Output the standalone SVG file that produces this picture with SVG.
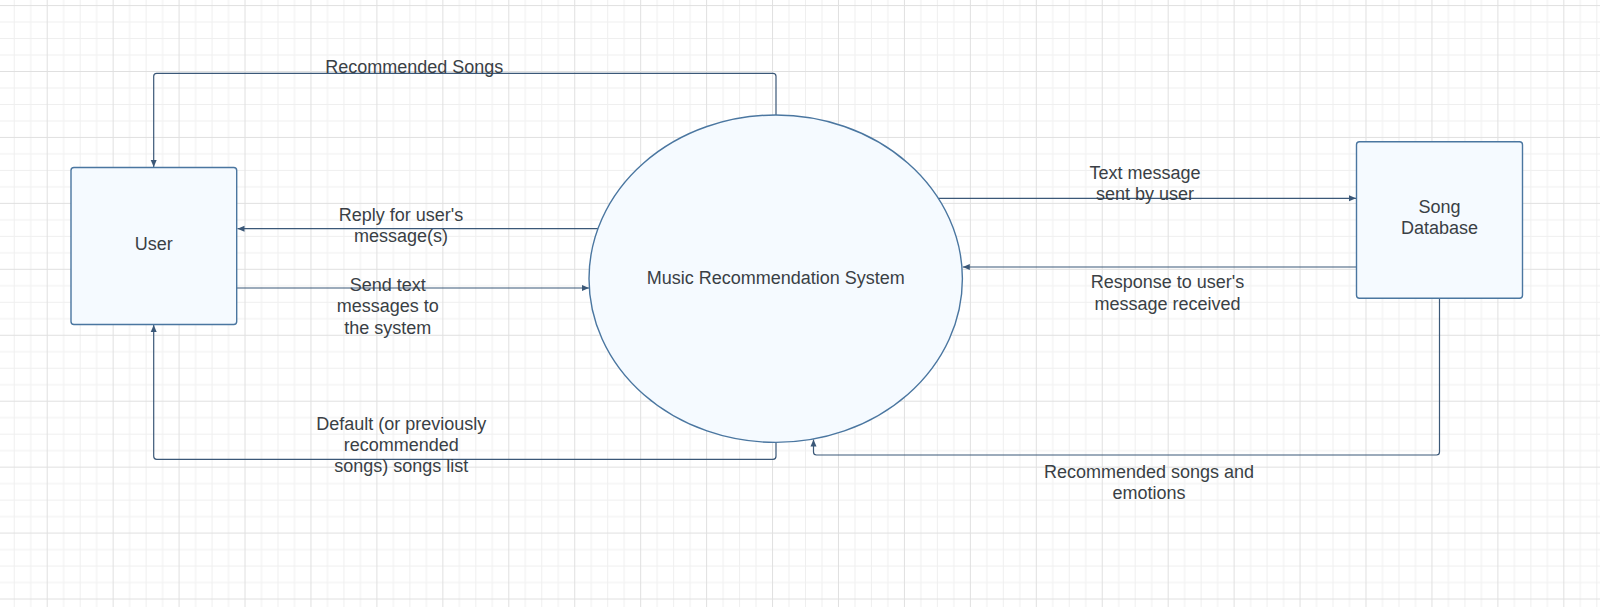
<svg xmlns="http://www.w3.org/2000/svg" width="1600" height="607" viewBox="0 0 1600 607">
  <style>
    .lbl { font-family: "Liberation Sans", Arial, sans-serif; font-size: 18px; fill: #3a3f45; text-anchor: middle; }
    .conn { fill: none; stroke: #3b5878; stroke-width: 1.2; }
    .shape { fill: #f5faff; stroke: #4a76a0; stroke-width: 1.4; }
  </style>
  <defs>
    <pattern id="grid" patternUnits="userSpaceOnUse" x="46.7" y="5.06" width="65.94" height="65.94">
      <rect x="16.485" y="0" width="1" height="65.94" fill="#efefef"/>
      <rect x="32.97" y="0" width="1" height="65.94" fill="#efefef"/>
      <rect x="49.455" y="0" width="1" height="65.94" fill="#efefef"/>
      <rect x="0" y="16.485" width="65.94" height="1" fill="#efefef"/>
      <rect x="0" y="32.97" width="65.94" height="1" fill="#efefef"/>
      <rect x="0" y="49.455" width="65.94" height="1" fill="#efefef"/>
      <rect x="0" y="0" width="1" height="65.94" fill="#e0e0e0"/>
      <rect x="0" y="0" width="65.94" height="1" fill="#e0e0e0"/>
    </pattern>
    <marker id="arr" markerUnits="userSpaceOnUse" markerWidth="8" markerHeight="7" refX="7" refY="3.5" orient="auto">
      <path d="M0,0.5 L7,3.5 L0,6.5 z" fill="#3b5878"/>
    </marker>
  </defs>
  <rect x="0" y="0" width="1600" height="607" fill="#ffffff"/>
  <rect x="0" y="0" width="1600" height="607" fill="url(#grid)"/>

  <g id="connectors">
    <path class="conn" d="M776,115.5 V76.3 Q776,73.3 773,73.3 H156.7 Q153.7,73.3 153.7,76.3 V167" marker-end="url(#arr)"/>
    <path class="conn" d="M598,228.7 H237.5" marker-end="url(#arr)"/>
    <path class="conn" d="M236.7,288 H589" marker-end="url(#arr)"/>
    <path class="conn" d="M938.5,198.3 H1356" marker-end="url(#arr)"/>
    <path class="conn" d="M1356.5,267 H962.8" marker-end="url(#arr)"/>
    <path class="conn" d="M776,442.3 V456.3 Q776,459.3 773,459.3 H156.7 Q153.7,459.3 153.7,456.3 V325" marker-end="url(#arr)"/>
    <path class="conn" d="M1439.5,298 V452 Q1439.5,455 1436.5,455 H816.5 Q813.5,455 813.5,452 V439.5" marker-end="url(#arr)"/>
    <text class="lbl" x="414.3" y="73">Recommended Songs</text>
    <text class="lbl" x="401" y="221">Reply for user's</text>
    <text class="lbl" x="401" y="242.4">message(s)</text>
    <text class="lbl" x="387.8" y="291">Send text</text>
    <text class="lbl" x="387.8" y="312.4">messages to</text>
    <text class="lbl" x="387.8" y="333.8">the system</text>
    <text class="lbl" x="1145" y="178.6">Text message</text>
    <text class="lbl" x="1145" y="200">sent by user</text>
    <text class="lbl" x="1167.5" y="288.2">Response to user's</text>
    <text class="lbl" x="1167.5" y="309.6">message received</text>
    <text class="lbl" x="401.2" y="429.6">Default (or previously</text>
    <text class="lbl" x="401.2" y="451">recommended</text>
    <text class="lbl" x="401.2" y="472.4">songs) songs list</text>
    <text class="lbl" x="1149" y="477.5">Recommended songs and</text>
    <text class="lbl" x="1149" y="498.9">emotions</text>
  </g>

  <g id="user">
    <rect class="shape" x="71" y="167.5" width="165.7" height="157" rx="3"/>
    <text class="lbl" x="153.8" y="249.6">User</text>
  </g>
  <g id="music-recommendation-system">
    <ellipse class="shape" cx="775.7" cy="278.7" rx="186.7" ry="163.7"/>
    <text class="lbl" x="775.7" y="284.3">Music Recommendation System</text>
  </g>
  <g id="song-database">
    <rect class="shape" x="1356.5" y="141.8" width="166" height="156.4" rx="3"/>
    <text class="lbl" x="1439.5" y="212.8">Song</text>
    <text class="lbl" x="1439.5" y="234.2">Database</text>
  </g>
</svg>
